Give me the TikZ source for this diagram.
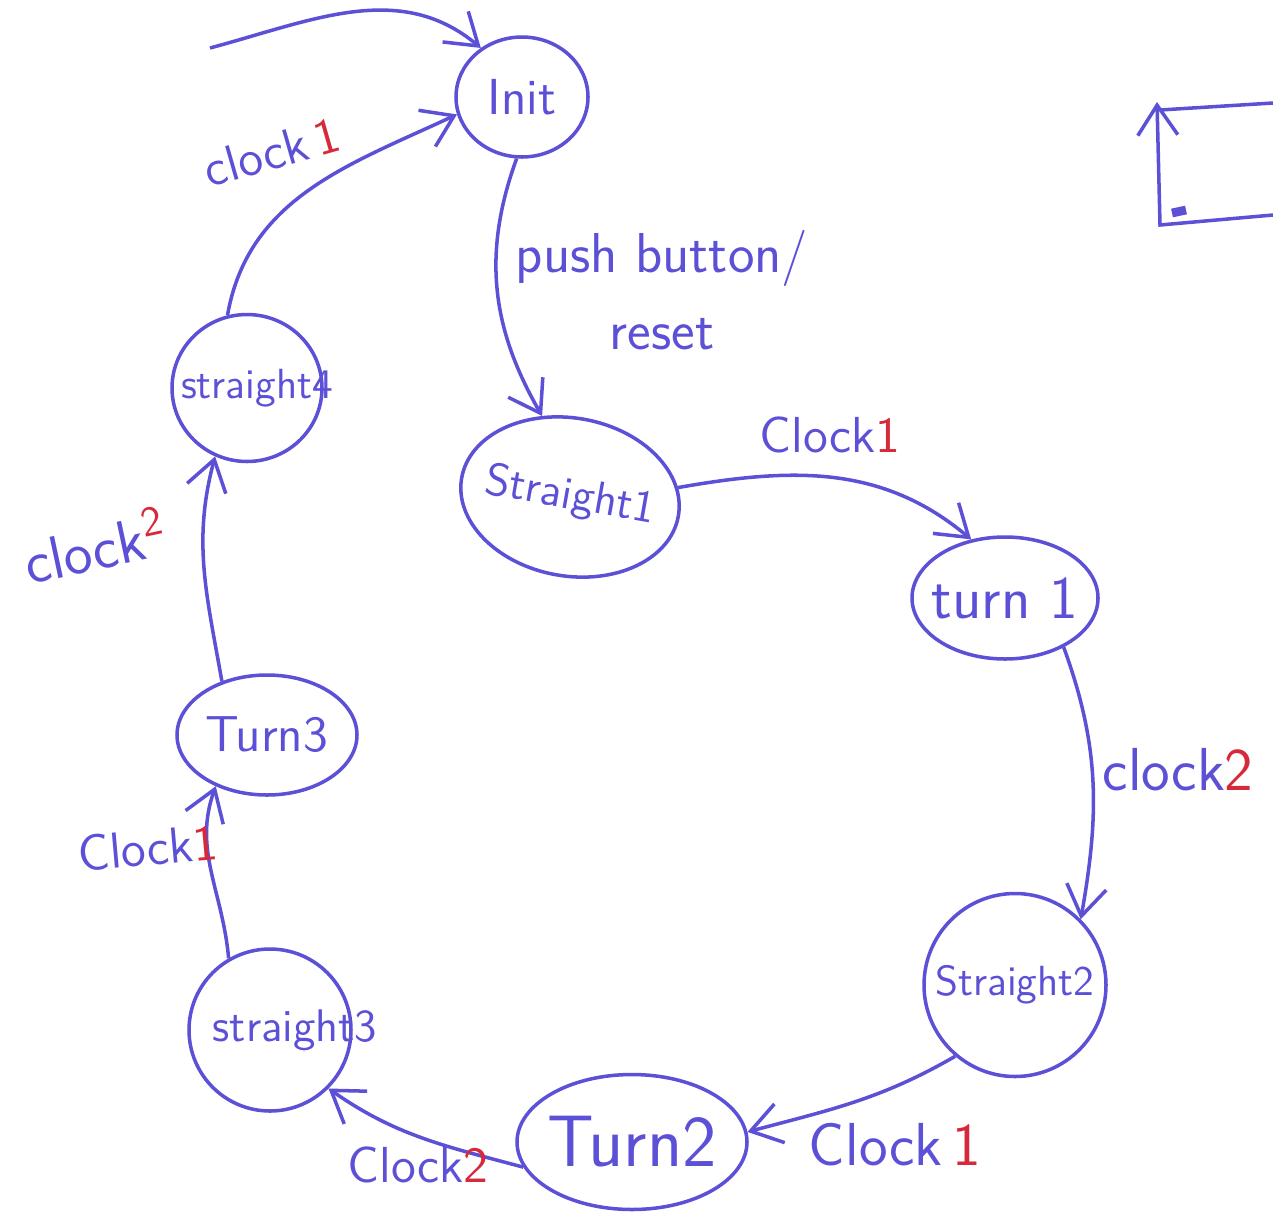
\documentclass[tikz,border=0pt]{standalone}
\usepackage{tikz}
\usetikzlibrary{shapes.geometric, arrows.meta}

\definecolor{encre}{RGB}{92,80,214}
\definecolor{rouge}{RGB}{214,42,58}

% texte sans largeur, pour que l'ellipse garde sa taille
\newcommand{\dedans}[1]{\makebox[0pt]{#1}}

\begin{document}
\begin{tikzpicture}[
    etat/.style={ellipse, draw=encre, line width=1pt, text=encre, inner sep=0pt, font=\sffamily\large},
    etiq/.style={text=encre, font=\sffamily\Large},
    fleche/.style={draw=encre, line width=1pt, -{Straight Barb[length=3mm,width=4mm]}}
  ]
  % Cadre de la page
  \useasboundingbox (0,0) rectangle (12.73,-12.18);

  % Etats
  \node[etat, minimum width=1.32cm, minimum height=1.20cm, font=\sffamily\Large] (init) at (5.22,-0.97) {\dedans{Init}};
  \node[etat, minimum width=2.20cm, minimum height=1.58cm, rotate=-10, font=\sffamily\fontsize{13}{15}\selectfont] (s1) at (5.70,-4.97) {\dedans{Straight1}};
  \node[etat, minimum width=1.86cm, minimum height=1.22cm, font=\sffamily\LARGE] (t1) at (10.05,-5.98) {\dedans{turn 1}};
  \node[etat, minimum width=1.82cm, minimum height=1.83cm] (s2) at (10.15,-9.85) {\dedans{Straight2}};
  \node[etat, minimum width=2.30cm, minimum height=1.35cm, font=\sffamily\huge] (t2) at (6.32,-11.42) {\dedans{Turn2}};
  \node[etat, minimum width=1.62cm, minimum height=1.62cm, font=\sffamily\fontsize{13}{15}\selectfont] (s3) at (2.70,-10.30) {\dedans{\hspace{0.5cm}straight3}};
  \node[etat, minimum width=1.80cm, minimum height=1.20cm, font=\sffamily\Large] (t3) at (2.67,-7.35) {\dedans{Turn3}};
  \node[etat, minimum width=1.50cm, minimum height=1.47cm] (s4) at (2.47,-3.88) {\dedans{\hspace{0.2cm}straight4}};

  % Fleche d'entree
  \coordinate (debut) at (2.10,-0.48);
  \draw[fleche] (debut) to[out=15, in=140] (init.130);

  % Transitions
  \draw[fleche] (s4.105) to[out=80, in=205] (init.195);
  \draw[fleche] (init.265) to[out=250, in=120] (s1.119);
  \draw[fleche] (s1.15) to[out=10, in=140] (t1.120);
  \draw[fleche] (t1.-40) to[out=-70, in=80] (s2.45);
  \draw[fleche] (s2.230) to[out=210, in=15] (t2.5);
  \draw[fleche] (t2.193) to[out=165, in=-35] (s3.-45);
  \draw[fleche] (s3.120) to[out=95, in=250] (t3.225);
  \draw[fleche] (t3.130) to[out=100, in=255] (s4.245);

  % Etiquettes
  \node[etiq, rotate=16] (e1) at (2.72,-1.52) {clock\,\textcolor{rouge}{1}};
  \node[etiq, align=center, font=\sffamily\fontsize{16}{22}\selectfont] (e2) at (6.62,-2.90) {push button/\\reset};
  \node[etiq] (e3) at (8.30,-4.35) {Clock\textcolor{rouge}{1}};
  \node[etiq, font=\sffamily\LARGE] (e4) at (11.78,-7.70) {clock\textcolor{rouge}{2}};
  \node[etiq, font=\sffamily\LARGE] (e5) at (8.95,-11.45) {Clock\,\textcolor{rouge}{1}};
  \node[etiq] (e6) at (4.18,-11.65) {Clock\textcolor{rouge}{2}};
  \node[etiq, rotate=5] (e7) at (1.48,-8.48) {Clock\textcolor{rouge}{1}};
  \node[etiq, rotate=12, font=\sffamily\LARGE] (e8) at (0.95,-5.45) {clock\textsuperscript{\textcolor{rouge}{2}}};

  % Croquis en haut a droite
  \draw[fleche] (12.73,-2.15) -- (11.60,-2.25) -- (11.57,-1.02);
  \draw[encre, line width=1pt] (11.60,-1.10) -- (12.73,-1.03);
  \draw[encre, line width=2.5pt] (11.72,-2.13) -- (11.86,-2.10);
\end{tikzpicture}
\end{document}
